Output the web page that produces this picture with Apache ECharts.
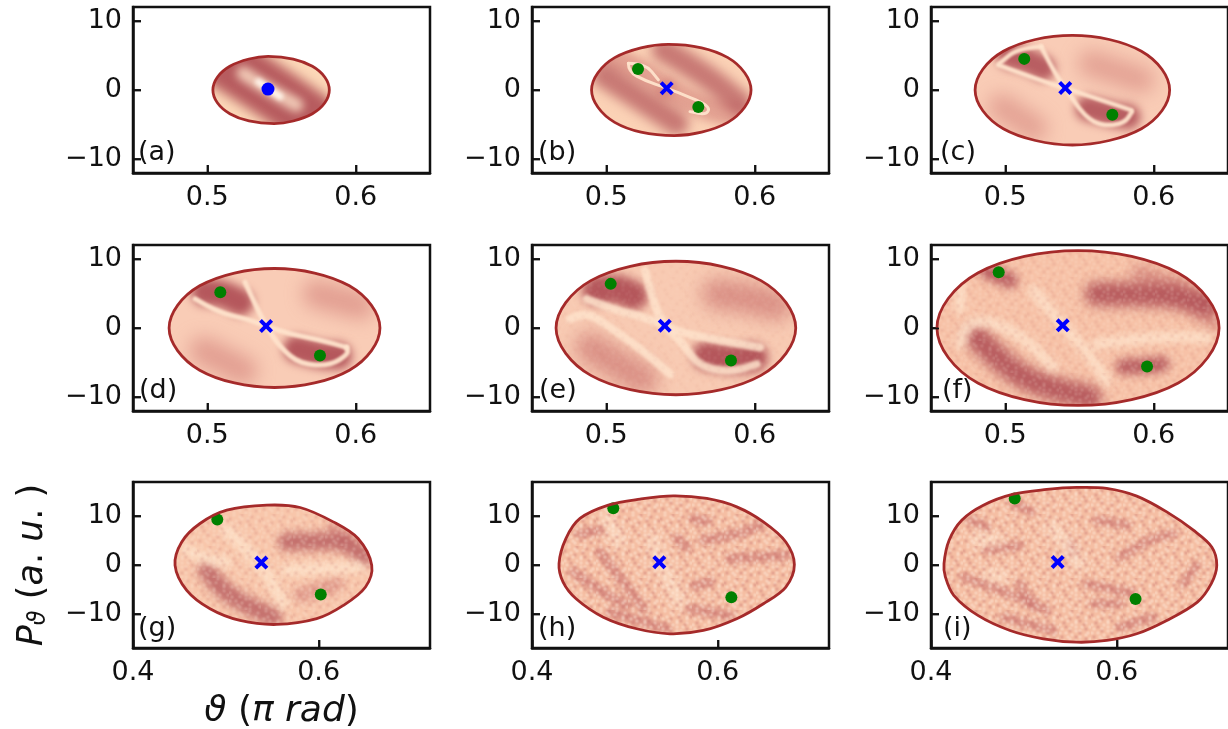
<!DOCTYPE html>
<html><head><meta charset="utf-8">
<style>html,body{margin:0;padding:0;background:#fff}#c{width:1228px;height:729px}</style>
<script src="https://cdn.jsdelivr.net/npm/echarts@6/dist/echarts.min.js"></script>
</head><body><div id="c"></div>
<script>
// ---------- tick labels ----------
const xTicksUpper=[0.5,0.6], xTicksLower=[0.4,0.6];
const yTicksUpper=[-10,0,10], yTicksLower=[-10,0,10];
const panelLabels=['(a)','(b)','(c)','(d)','(e)','(f)','(g)','(h)','(i)'];

// ---------- separatrix outlines (theta, P) ----------
const outlineA=[[.5822,0],[.5792,1.85],[.5708,3.43],[.5579,4.48],[.541,4.85],[.5281,4.48],[.5152,3.43],[.5068,1.85],[.5038,0],[.5068,-1.85],[.5152,-3.43],[.5281,-4.48],[.545,-4.85],[.5579,-4.48],[.5708,-3.43],[.5792,-1.85]];
const outlineB=[[.5975,0],[.5932,2.5],[.5819,4.68],[.5642,6.1],[.5418,6.6],[.5234,6.1],[.5057,4.68],[.4944,2.5],[.4901,0],[.4944,-2.5],[.5057,-4.68],[.5234,-6.1],[.5458,-6.6],[.5642,-6.1],[.5819,-4.68],[.5932,-2.5]];
const outlineC=[[.6107,0],[.6055,3.0],[.5917,5.6],[.5701,7.3],[.5452,7.9],[.5203,7.3],[.4987,5.6],[.4849,3.0],[.4797,0],[.4849,-3.0],[.4987,-5.6],[.5203,-7.3],[.5452,-7.95],[.5701,-7.3],[.5917,-5.6],[.6055,-3.0]];
const outlineD=[[.6163,0],[.6106,3.27],[.5957,6.1],[.5723,7.95],[.5453,8.6],[.5183,7.95],[.4949,6.1],[.48,3.27],[.4743,0],[.48,-3.27],[.4949,-6.1],[.5183,-7.95],[.5453,-8.6],[.5723,-7.95],[.5957,-6.1],[.6106,-3.27]];
const outlineE=[[.6276,0],[.6211,3.67],[.6042,6.85],[.5776,8.92],[.5469,9.65],[.5162,8.92],[.4896,6.85],[.4727,3.67],[.4662,0],[.4727,-3.67],[.4896,-6.85],[.5162,-8.92],[.5469,-9.65],[.5776,-8.92],[.6042,-6.85],[.6211,-3.67]];
const outlineF=[[.644,0],[.6364,4.26],[.6165,7.95],[.5851,10.35],[.549,11.2],[.5129,10.35],[.4815,7.95],[.4616,4.26],[.454,0],[.4616,-4.26],[.4815,-7.95],[.5129,-10.35],[.549,-11.2],[.5851,-10.35],[.6165,-7.95],[.6364,-4.26]];
const outlineG=[[.5441,12.26],[.58,11.78],[.6158,8.83],[.6425,5.42],[.6572,-.06],[.6505,-4.5],[.6266,-8.28],[.5979,-11.0],[.5548,-12.18],[.5153,-11.36],[.483,-8.96],[.4579,-5.2],[.4453,-.06],[.4525,4.72],[.4722,8.5],[.501,11.23]];
const outlineH=[[.4291,.28],[.4365,5.42],[.4517,9.53],[.4822,12.26],[.5164,13.49],[.5523,14.17],[.5883,13.63],[.6206,11.91],[.6493,8.83],[.6735,4.72],[.6827,.08],[.6735,-4.52],[.6493,-7.93],[.6206,-11.0],[.5846,-13.41],[.5487,-14.09],[.5128,-13.06],[.4768,-10.68],[.4475,-6.9],[.4335,-3.49]];
const outlineI=[[.414,.29],[.4195,5.07],[.4331,9.18],[.4564,12.26],[.4887,14.52],[.5247,15.48],[.557,15.89],[.5893,15.69],[.6217,14.11],[.654,10.88],[.6827,7.13],[.7025,3.7],[.7079,-.06],[.702,-3.82],[.687,-7.6],[.654,-11.36],[.6217,-14.09],[.5893,-15.46],[.557,-15.81],[.521,-15.11],[.4851,-13.41],[.4505,-10.33],[.4245,-6.22],[.4155,-2.46]];

// ---------- marked points ----------
const centreA=[.5409,.14], centreB=[.5407,.25], centreC=[.5404,.29], centreD=[.5396,.29], centreE=[.5394,.33], centreF=[.5387,.38], centreG=[.5383,.49], centreH=[.5372,.55], centreI=[.5365,.62];
const greenA=[];
const greenB=[[.5214,3.04],[.562,-2.46]];
const greenC=[[.5128,4.5],[.5721,-3.58]];
const greenD=[[.5088,5.16],[.5759,-3.97]];
const greenE=[[.503,6.38],[.584,-4.7]];
const greenF=[[.4956,8.06],[.5955,-5.57]];
const greenG=[[.4908,9.3],[.6023,-6.02]];
const greenH=[[.4876,11.64],[.6148,-6.63]];
const greenI=[[.4902,13.63],[.6204,-6.98]];

// ---------- density ridges (theta, P) ----------
const darkA=[[[.5086,4.58],[.5409,.14],[.5692,-4.11]]];
const lightA=[[[.5243,2.41],[.5409,.14],[.5602,-2.18]]];
const whiteA=[[[.5344,1.2],[.549,-.97]]];
const midB=[[[.5025,4.84],[.5214,3.05],[.5385,.49]],[[.5429,.01],[.562,-2.45],[.5878,-3.61]]];
const darkB=[[[.5385,5.8],[.5654,2.42],[.5901,-1.92]],[[.498,2.18],[.5205,-.96],[.5474,-4.82]]];
const lightB=[[[.5149,3.87],[.5149,2.67],[.5261,1.36],[.5407,.25],[.5508,-.57],[.5699,-2.31],[.5676,-3.61],[.5564,-3.13]],[[.5149,3.87],[.5261,3.87],[.5351,1.46]]];
const midC=[[[.4973,-2.41],[.5197,-5.55]],[[.5579,3.86],[.5916,1.45]]];
const darkC=[[[.5029,4.83],[.5128,4.49],[.5254,3.14]],[[.5557,-2.66],[.5721,-3.57],[.5826,-3.86]]];
const lightC=[[[.4951,3.62],[.5242,1.3],[.5404,.29],[.5579,-.97],[.5849,-2.9]],[[.5242,6.28],[.5321,2.9],[.5404,.29],[.5534,-3.86],[.5658,-5.22],[.5804,-4.83],[.5853,-3.14]],[[.5242,6.28],[.5085,6.04],[.4962,3.86]]];
const midD=[[[.4974,-3.28],[.5243,-6.18]],[[.5737,4.93],[.603,3.24]]];
const darkD=[[[.4985,5.17],[.5088,5.17],[.5221,3.72]],[[.5603,-3.04],[.576,-4.01],[.5883,-4.01]]];
const lightD=[[[.4918,4.2],[.5064,2.27],[.5266,1.3],[.5396,.29],[.5558,-.87],[.5737,-1.59],[.5939,-2.8]],[[.5255,6.62],[.5333,2.99],[.5396,.29],[.549,-2.8],[.5625,-5.22],[.5827,-5.46],[.5951,-3.77],[.5939,-2.8]]];
const midE=[[[.4891,-2.81],[.5048,-4.98],[.525,-7.4]],[[.5744,4.92],[.5946,4.44],[.6148,3.23]]];
const darkE=[[[.4936,5.4],[.5048,5.9],[.5183,4.68]],[[.5677,-4.02],[.5841,-4.69],[.5991,-4.26]]];
const lightE=[[[.4869,4.19],[.5071,2.5],[.5228,1.78],[.5394,.33],[.5542,-.88],[.5834,-2.09],[.6036,-2.81]],[[.5262,8.3],[.5318,3.47],[.5394,.33],[.552,-2.33],[.5621,-5.47],[.5834,-6.43],[.6014,-5.22]],[[.4756,1.3],[.4857,2.5],[.5026,.09],[.525,-3.29],[.543,-6.67]]];
const midF=[[[.5908,7.82],[.6177,5.89]],[[.6302,3.0],[.6402,1.06]]];
const darkF=[[[.5616,4.92],[.5863,4.92],[.6132,4.68],[.6357,3.47]],[[.4808,-1.36],[.492,-3.77],[.5077,-6.67],[.528,-8.6],[.5571,-10.05]]];
const coreF=[[[.4875,8.3],[.4956,7.6],[.5032,6.85]],[[.5796,-5.61],[.5955,-5.46],[.6054,-5.22]]];
const lightF=[[[.4696,-2.32],[.4729,.33],[.4853,1.3],[.51,-.88],[.5324,-5.7]],[[.5189,5.4],[.5387,.38],[.5549,-3.29],[.5683,-7.64]],[[.4696,6.4],[.4696,2.8]],[[.5616,-2.32],[.6,-1.2],[.636,-1.4]]];
const midG=[[[.6159,7.82],[.6302,5.6]],[[.58,-6.22],[.6022,-5.2],[.6194,-3.83]]];
const darkG=[[[.5656,4.74],[.6015,4.94],[.6302,4.74],[.6499,1.65]],[[.4794,-1.09],[.4902,-4.17],[.5153,-7.59],[.5512,-10.68]]];
const lightG=[[[.501,7.13],[.5383,.49],[.562,-7.94]],[[.5656,-1.09],[.6446,-.4]],[[.458,3.2],[.472,1.4],[.5,.6]]];
const midH=[[[.4446,-1.44],[.4697,-4.86],[.502,-8.29]],[[.4733,2.67],[.4984,-3.49],[.52,-8.97]],[[.5559,5.41],[.5666,3.7]],[[.5738,9.52],[.5882,8.84]],[[.5846,5.07],[.6205,6.1],[.6456,8.15]],[[.6133,1.3],[.6743,1.99]],[[.5756,-4.18],[.5918,-3.49]],[[.4517,6.44],[.4733,7.13]],[[.4841,-9.66],[.5451,-13.08]],[[.5702,-8.97],[.6133,-10.34]]];
const lightH=[[[.5307,5.41],[.5372,.55],[.5595,-7.6]],[[.4805,9.52],[.4948,4.73]]];
const midI=[[[.4349,-2.46],[.46,-4.18],[.4959,-6.57],[.5247,-9.31]],[[.4959,-3.83],[.5103,-8.63]],[[.4888,12.6],[.5085,10.9]],[[.6036,1.65],[.6323,5.07],[.6611,6.44]],[[.5785,9.18],[.6108,8.16]],[[.5677,-3.83],[.5929,-4.86],[.618,-5.89]],[[.6719,-3.83],[.6862,-.07]],[[.5498,4.39],[.5534,2.33]],[[.4421,9.18],[.46,7.81]],[[.6036,-12.74],[.6395,-10.68]],[[.478,-10.68],[.5318,-13.42]],[[.5749,-7.94],[.6036,-7.94]],[[.4959,4.05],[.46,3.02]]];
const lightI=[[[.45,5.07],[.47,5.2]],[[.4636,-2.12],[.476,-2.4]],[[.5318,7.81],[.5606,.28]]];

// ---------- styling (not data): [stroke width px, alpha, blur px] ----------
const COL={dark:'#ad4a52',mid:'#cf7a74',light:'#fee3cb',white:'#fff6ec'};
const panelStyle=[
 {base:'#fcd8b8',dark:[54,.88,6],light:[14,.8,4],white:[7,.95,2],speckle:0},
 {base:'#fbd2b6',mid:[24,.55,4],dark:[24,.66,6],light:[3,.95,.7],speckle:0},
 {base:'#f9ccb6',mid:[26,.5,9],dark:[25,.85,5],light:[4.5,.95,1.2],speckle:0},
 {base:'#f9ccb6',mid:[28,.55,9],dark:[27,.9,5],light:[5,.95,1.2],speckle:0},
 {base:'#f8cab2',mid:[30,.72,9],dark:[29,.9,5],light:[8,.85,1.5],speckle:.15},
 {base:'#f7c2a7',mid:[20,.62,6],dark:[24,.85,6],core:[16,.8,4],light:[11,.75,3],speckle:.4},
 {base:'#f8c6ab',mid:[14,.55,4],dark:[18,.68,4],light:[12,.72,3],speckle:.55},
 {base:'#f5bea3',mid:[10,.68,2.5],light:[13,.6,4],speckle:1},
 {base:'#f5bea3',mid:[9,.68,2.5],light:[13,.6,4],speckle:1}
];
const gridLeft=[133,532,931], gridTop=[7,245,482], gridW=297, gridH=166;
const labelPos=[[138,139],[538,139],[940,139],[139,377],[539,377],[942,377],[138,615],[538,615],[943,615]];
const FONT='"DejaVu Sans"';
const TICK_LEN=8;
const xMark='path://M2 0L5 3L8 0L10 2L7 5L10 8L8 10L5 7L2 10L0 8L3 5L0 2Z';
const speckleRows=[
'..o...#...o.....',
'.....o.....#..o.',
'#.....o..o......',
'...o.....#...o.#',
'.o...#.......o..',
'....o...o.#.....',
'..#.....o....o..',
'o.....o.....#...',
'...#....o..o...o',
'.o...o.......#..',
'.....#..o.o.....',
'o..o......#...o.',
'......o......o..',
'.#..o...#.o.....',
'.....o.......#.o',
'..o.....o.o.....'];

function makeTile(){
  const c=document.createElement('canvas');c.width=c.height=32;
  const g=c.getContext('2d');g.filter='blur(0.8px)';
  speckleRows.forEach((row,r)=>[...row].forEach((ch,k)=>{
    if(ch==='.')return;
    g.fillStyle=ch==='o'?'rgba(255,238,222,.95)':'rgba(190,95,95,.7)';
    g.fillRect(k*2,r*2,2,2);
  }));
  return c;
}
const tile=makeTile();

const panels=[
 {outline:outlineA,centre:centreA,green:greenA,dark:darkA,light:lightA,white:whiteA},
 {outline:outlineB,centre:centreB,green:greenB,mid:midB,dark:darkB,light:lightB},
 {outline:outlineC,centre:centreC,green:greenC,mid:midC,dark:darkC,light:lightC},
 {outline:outlineD,centre:centreD,green:greenD,mid:midD,dark:darkD,light:lightD},
 {outline:outlineE,centre:centreE,green:greenE,mid:midE,dark:darkE,light:lightE},
 {outline:outlineF,centre:centreF,green:greenF,mid:midF,dark:darkF,core:coreF,light:lightF},
 {outline:outlineG,centre:centreG,green:greenG,mid:midG,dark:darkG,light:lightG},
 {outline:outlineH,centre:centreH,green:greenH,mid:midH,light:lightH},
 {outline:outlineI,centre:centreI,green:greenI,mid:midI,light:lightI}
];
const SMOOTH=.34;
function paint(g,list,color,spec,api,ox,oy){
  if(!list||!spec)return;
  g.filter='blur('+spec[2]+'px)';
  g.globalAlpha=spec[1];g.strokeStyle=color;g.lineWidth=spec[0];g.lineCap='round';g.lineJoin='round';
  list.forEach(line=>{
    const pts=line.map(d=>{const q=api.coord(d);return [q[0]-ox,q[1]-oy];});
    g.beginPath();g.moveTo(pts[0][0],pts[0][1]);
    for(let k=1;k<pts.length-1;k++){
      const mx=(pts[k][0]+pts[k+1][0])/2,my=(pts[k][1]+pts[k+1][1])/2;
      g.quadraticCurveTo(pts[k][0],pts[k][1],mx,my);
    }
    const e=pts[pts.length-1];g.lineTo(e[0],e[1]);g.stroke();
  });
}
function fillRender(idx){
  const p=panels[idx],s=panelStyle[idx];
  return function(params,api){
    const o=p.outline.map(d=>api.coord(d));
    const cs=params.coordSys;
    const cv=document.createElement('canvas');cv.width=cs.width;cv.height=cs.height;
    const g=cv.getContext('2d');
    g.fillStyle=s.base;g.fillRect(0,0,cv.width,cv.height);
    paint(g,p.mid,COL.mid,s.mid,api,cs.x,cs.y);
    paint(g,p.dark,COL.dark,s.dark,api,cs.x,cs.y);
    paint(g,p.core,COL.dark,s.core,api,cs.x,cs.y);
    paint(g,p.light,COL.light,s.light,api,cs.x,cs.y);
    paint(g,p.white,COL.white,s.white,api,cs.x,cs.y);
    if(s.speckle){g.filter='none';g.globalAlpha=s.speckle;g.fillStyle=g.createPattern(tile,'repeat');g.fillRect(0,0,cv.width,cv.height);}
    return {type:'group',clipPath:{type:'polygon',shape:{points:o,smooth:SMOOTH}},
      children:[{type:'image',silent:true,style:{image:cv,x:cs.x,y:cs.y,width:cs.width,height:cs.height}}]};
  };
}
function outlineRender(idx){
  const p=panels[idx];
  return function(params,api){
    return {type:'polygon',silent:true,shape:{points:p.outline.map(d=>api.coord(d)),smooth:SMOOTH},
      style:{fill:'none',stroke:'#a52a2a',lineWidth:2.8}};
  };
}
// inward tick strokes, placed through the axes' own scales, kept above the frame
function tickRender(xT,yT){
  return function(params,api){
    const cs=params.coordSys,kids=[];
    const st={stroke:'#111',lineWidth:1.8};
    xT.forEach(v=>{const x=Math.round(api.coord([v,0])[0])+.5;
      kids.push({type:'line',silent:true,shape:{x1:x,y1:cs.y+cs.height,x2:x,y2:cs.y+cs.height-TICK_LEN},style:st});});
    yT.forEach(v=>{const y=Math.round(api.coord([xT[0],v])[1])+.5;
      kids.push({type:'line',silent:true,shape:{x1:cs.x,y1:y,x2:cs.x+TICK_LEN,y2:y},style:st});});
    return {type:'group',children:kids};
  };
}

const grid=[],xAxis=[],yAxis=[],series=[],graphic=[];
panels.forEach((p,i)=>{
  const c=i%3,r=Math.floor(i/3),lower=r===2;
  grid.push({left:gridLeft[c],top:gridTop[r],width:gridW,height:gridH,show:true,outerBoundsMode:'none',borderColor:'#111',borderWidth:2.5,backgroundColor:'transparent'});
  const xT=lower?xTicksLower:xTicksUpper,yT=lower?yTicksLower:yTicksUpper;
  const xa={type:'value',gridIndex:i,min:lower?.4:.45,max:lower?.72:.65,splitLine:{show:false},
    axisLine:{show:true,onZero:false,lineStyle:{color:'#111',width:2.5}},
    axisTick:{show:true,inside:true,length:TICK_LEN,lineStyle:{color:'#111',width:1.8},customValues:xT},
    axisLabel:{show:true,margin:11,fontSize:27,fontFamily:FONT,color:'#111',customValues:xT,formatter:v=>v.toFixed(1),hideOverlap:false}};
  const ya={type:'value',gridIndex:i,min:lower?-17:-12,max:lower?17:12,splitLine:{show:false},
    axisLine:{show:true,onZero:false,lineStyle:{color:'#111',width:2.5}},
    axisTick:{show:true,inside:true,length:TICK_LEN,lineStyle:{color:'#111',width:1.8},customValues:yT},
    axisLabel:{show:true,margin:11,fontSize:27,fontFamily:FONT,color:'#111',customValues:yT,formatter:v=>v<0?'\u2212'+(-v):String(v),hideOverlap:false}};
  if(i===6){
    xa.name='{i|\u03D1}{n| (}{i|\u03C0 rad}{n|)}';
    xa.nameLocation='middle';xa.nameGap=46;
    xa.nameTextStyle={rich:{i:{fontSize:36,fontFamily:FONT,fontStyle:'italic',color:'#111'},n:{fontSize:36,fontFamily:FONT,color:'#111'}}};
    ya.name='{i|P}{s|\u03D1}{n| (}{i|a}{n|. }{i|u}{n|. )}';
    ya.nameLocation='middle';ya.nameGap=82;ya.nameRotate=90;
    ya.nameTextStyle={rich:{i:{fontSize:35,fontFamily:FONT,fontStyle:'italic',color:'#111'},n:{fontSize:35,fontFamily:FONT,color:'#111'},s:{fontSize:24,fontFamily:FONT,fontStyle:'italic',color:'#111',padding:[12,0,0,0]}}};
  }
  xAxis.push(xa);yAxis.push(ya);
  series.push({type:'custom',xAxisIndex:i,yAxisIndex:i,z:2,clip:false,silent:true,data:[p.centre],renderItem:fillRender(i)});
  series.push({type:'scatter',xAxisIndex:i,yAxisIndex:i,z:3,silent:true,symbol:'circle',symbolSize:12,itemStyle:{color:'#008000',opacity:1},data:p.green});
  series.push({type:'custom',xAxisIndex:i,yAxisIndex:i,z:4,clip:false,silent:true,data:[p.centre],renderItem:outlineRender(i)});
  series.push({type:'scatter',xAxisIndex:i,yAxisIndex:i,z:5,silent:true,
    symbol:i===0?'circle':xMark,symbolSize:i===0?13:14,itemStyle:{color:'#0000ff',opacity:1},data:[p.centre]});
  series.push({type:'custom',xAxisIndex:i,yAxisIndex:i,z:6,clip:false,silent:true,data:[p.centre],renderItem:tickRender(xT,yT)});
  graphic.push({type:'text',left:labelPos[i][0],top:labelPos[i][1],z:10,silent:true,
    style:{text:panelLabels[i],font:'27px '+FONT,fill:'#111'}});
});

const chart=echarts.init(document.getElementById('c'),null,{renderer:'canvas'});
chart.setOption({animation:false,backgroundColor:'#fff',grid,xAxis,yAxis,series,graphic});
</script></body></html>
